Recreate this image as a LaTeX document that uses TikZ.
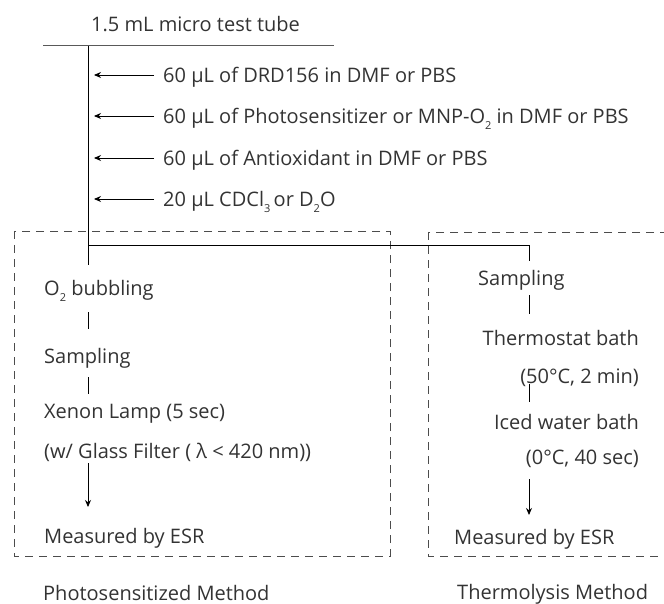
\documentclass[tikz,border=0pt]{standalone}
\usepackage{fontspec}
\setmainfont{Open Sans}
\usetikzlibrary{arrows.meta}
\newcommand{\sbs}[1]{\raisebox{-0.3em}{\fontsize{11}{11}\selectfont #1}}
\begin{document}
\begin{tikzpicture}[x=1pt,y=-1pt,
  txt/.style={inner sep=0pt, font=\fontsize{20}{24}\selectfont, text=black!80},
  mainline/.style={draw=black, line width=0.9pt},
  topline/.style={draw=black!65, line width=1pt},
  arr/.style={draw=black, line width=0.9pt, -{Stealth[length=7pt,width=6pt]}},
  dashbox/.style={draw=black!70, line width=0.8pt, dash pattern=on 8pt off 6pt}]
\useasboundingbox (0,0) rectangle (664,604);
\clip (0,0) rectangle (664,604);
% dashed boxes
\draw[dashbox] (14,231) rectangle (390,556);
\draw[dashbox] (428,232) rectangle (700,556);
% tube
\node[txt, anchor=base west] (title) at (91,32) {1.5 mL micro test tube};
\coordinate (tl) at (43,46);
\coordinate (tr) at (334,46);
\draw[topline] (tl) -- (tr);
\coordinate (top) at (88,46);
\coordinate (bot) at (88,265);
\draw[mainline] (top) -- (bot);
% additions
\node[txt, anchor=base west] (a1) at (163,83) {60 µL of DRD156 in DMF or PBS};
\node[txt, anchor=base west] (a2) at (163,124) {60 µL of Photosensitizer or MNP-O\sbs{2} in DMF or PBS};
\node[txt, anchor=base west] (a3) at (163,166) {60 µL of Antioxidant in DMF or PBS};
\node[txt, anchor=base west] (a4) at (163,207) {20 µL CDCl\sbs{3}\,or D\sbs{2}O};
\foreach \n in {a1,a2,a3,a4}
  \draw[arr] ([shift={(-9,-8)}]\n.base west) -- ++(-60,0);
% split connector
\coordinate (split) at (88,245);
\coordinate (rturn) at (529,245);
\coordinate (rend) at (529,261);
\draw[mainline] (split) -- (rturn) -- (rend);
% photosensitized column
\node[txt, anchor=base west] (o2) at (44,295) {O\sbs{2} bubbling};
\node[txt, anchor=base west] (sampL) at (44,363) {Sampling};
\node[txt, anchor=base west] (xenon) at (44,418) {Xenon Lamp (5 sec)};
\node[txt, anchor=base west] (glass) at (44,458) {(w/ Glass Filter ( λ < 420 nm))};
\node[txt, anchor=base west] (measL) at (44,543) {Measured by ESR};
\node[txt, anchor=base west] (photo) at (43,600) {Photosensitized Method};
\coordinate (l1a) at (88,312); \coordinate (l1b) at (88,329);
\coordinate (l2a) at (88,377); \coordinate (l2b) at (88,394);
\coordinate (l3a) at (88,463); \coordinate (l3b) at (88,507);
\draw[mainline] (l1a) -- (l1b);
\draw[mainline] (l2a) -- (l2b);
\draw[arr] (l3a) -- (l3b);
% thermolysis column
\node[txt, anchor=base west] (sampR) at (478,285) {Sampling};
\node[txt, anchor=base east] (thermo) at (639,345) {Thermostat bath};
\node[txt, anchor=base east] (t50) at (639,383) {(50°C, 2 min)};
\node[txt, anchor=base east] (iced) at (639,429) {Iced water bath};
\node[txt, anchor=base east] (t0) at (639,464) {(0°C, 40 sec)};
\node[txt, anchor=base west] (measR) at (454,544) {Measured by ESR};
\node[txt, anchor=base west] (thermol) at (457,599) {Thermolysis Method};
\coordinate (r1a) at (529,295); \coordinate (r1b) at (529,314);
\coordinate (r2a) at (529,384); \coordinate (r2b) at (529,402);
\coordinate (r3a) at (529,479); \coordinate (r3b) at (529,515);
\draw[mainline] (r1a) -- (r1b);
\draw[mainline] (r2a) -- (r2b);
\draw[arr] (r3a) -- (r3b);
\end{tikzpicture}
\end{document}
